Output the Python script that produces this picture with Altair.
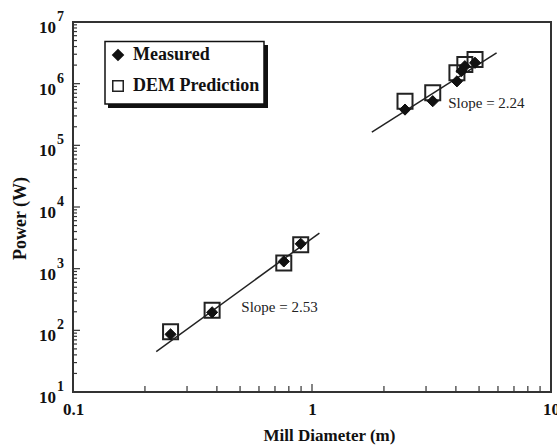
import altair as alt
import pandas as pd

# ---- measured mill power (W) against mill diameter (m) ----
meas_diam = [0.256, 0.382, 0.762, 0.897, 2.45, 3.20, 4.04, 4.22, 4.36, 4.81]
meas_power = [86, 196, 1310, 2530, 3.8e5, 5.2e5, 1.09e6, 1.6e6, 1.92e6, 2.18e6]

# ---- DEM predicted power ----
dem_diam = [0.256, 0.382, 0.762, 0.897, 2.45, 3.20, 4.04, 4.36, 4.81]
dem_power = [95, 211, 1230, 2440, 5.2e5, 7.1e5, 1.51e6, 2.04e6, 2.46e6]

# ---- power-law fit lines (end points) ----
fit_group = ["small", "small", "large", "large"]
fit_diam = [0.223, 1.074, 1.78, 5.92]
fit_power = [45.3, 3785, 1.64e5, 3.16e6]

# ---- slope annotations ----
slope_text = ["Slope = 2.53", "Slope = 2.24"]
slope_diam = [0.506, 3.715]
slope_power = [240, 4.88e5]

# ---- axis ticks ----
x_labels = [0.1, 1, 10]
x_major = [1]
x_minor = [0.2, 0.3, 0.4, 0.5, 0.6, 0.7, 0.8, 0.9, 2, 3, 4, 5, 6, 7, 8, 9]
y_exponents = [1, 2, 3, 4, 5, 6, 7]
y_mantissas = [2, 3, 4, 5, 6, 7, 8, 9]

SERIES = ["Measured", "DEM Prediction"]
SERIF = "Liberation Serif"
INK = "#111111"
W, H = 478, 370

meas_df = pd.DataFrame({"d": meas_diam, "p": meas_power, "series": "Measured"})
dem_df = pd.DataFrame({"d": dem_diam, "p": dem_power, "series": "DEM Prediction"})
fit_df = pd.DataFrame({"d": fit_diam, "p": fit_power, "g": fit_group})
slope_df = pd.DataFrame({"d": slope_diam, "p": slope_power, "t": slope_text})
ylab_df = pd.DataFrame({"d": [0.1] * len(y_exponents),
                        "p": [10.0 ** e for e in y_exponents],
                        "e": [str(e) for e in y_exponents]})
xmaj_df = pd.DataFrame({"d": x_major})
xmin_df = pd.DataFrame({"d": x_minor})
ymaj_df = pd.DataFrame({"p": [10.0 ** e for e in y_exponents[1:-1]]})
ymin_df = pd.DataFrame({"p": [m * 10.0 ** e for e in y_exponents[:-1] for m in y_mantissas]})
one = pd.DataFrame({"k": [0]})

xs = alt.Scale(type="log", domain=[0.1, 10], nice=False)
ys = alt.Scale(type="log", domain=[10, 1e7], nice=False)

x_axis = alt.Axis(values=x_labels, format="~g", ticks=False, tickSize=0, domain=False,
                  grid=False, labelFont=SERIF, labelFontWeight="bold", labelFontSize=17,
                  labelColor=INK, labelPadding=9, labelFlush=False, labelOverlap=False,
                  title="Mill Diameter (m)", titleFont=SERIF, titleFontWeight="bold",
                  titleFontSize=17, titleColor=INK, titleX=256, titleY=43,
                  titleBaseline="middle", titleAlign="center")
y_axis = alt.Axis(labels=False, ticks=False, domain=False, grid=False,
                  title="Power (W)", titleFont=SERIF, titleFontWeight="bold",
                  titleFontSize=18, titleColor=INK, titleAngle=270, titleX=-53,
                  titleY=196, titleBaseline="middle", titleAlign="center")

X = alt.X("d:Q", scale=xs, axis=x_axis)
Y = alt.Y("p:Q", scale=ys, axis=y_axis)

legend = alt.Legend(title=None, orient="none", legendX=36, legendY=24, padding=0,
                    labelFont=SERIF, labelFontWeight="bold", labelFontSize=18,
                    labelColor=INK, labelOffset=6, rowPadding=13, symbolSize=110,
                    symbolStrokeWidth=1.5)
shape_enc = alt.Shape("series:N", scale=alt.Scale(domain=SERIES, range=["diamond", "square"]),
                      legend=legend)
fill_enc = alt.Fill("series:N", scale=alt.Scale(domain=SERIES, range=[INK, "transparent"]),
                    legend=legend)
stroke_enc = alt.Stroke("series:N", scale=alt.Scale(domain=SERIES, range=[INK, "#222222"]),
                        legend=legend)

# legend frame with its drop shadow
shadow = alt.Chart(one).mark_rect(fill=INK).encode(
    x=alt.value(35), x2=alt.value(195), y=alt.value(23), y2=alt.value(86))
frame = alt.Chart(one).mark_rect(fill="white", stroke=INK, strokeWidth=1.5).encode(
    x=alt.value(32), x2=alt.value(191), y=alt.value(19.5), y2=alt.value(82))

fits = alt.Chart(fit_df).mark_line(color="#222222", strokeWidth=1.5).encode(
    x=X, y=Y, detail="g:N")

dem_pts = alt.Chart(dem_df).mark_point(size=225, strokeWidth=2, opacity=1).encode(
    x=X, y=Y, shape=shape_enc, fill=fill_enc, stroke=stroke_enc)
meas_pts = alt.Chart(meas_df).mark_point(size=125, strokeWidth=1, opacity=1).encode(
    x=X, y=Y, shape=shape_enc, fill=fill_enc, stroke=stroke_enc)

slopes = alt.Chart(slope_df).mark_text(font=SERIF, fontSize=15, color="#222222",
                                       align="left", baseline="middle").encode(
    x=X, y=Y, text="t:N")

# y tick labels written as 10 with a raised exponent
ylab_base = alt.Chart(ylab_df).mark_text(font=SERIF, fontWeight="bold", fontSize=17,
                                         color=INK, align="right", baseline="middle",
                                         dx=-17, dy=6).encode(x=X, y=Y, text=alt.value("10"))
ylab_exp = alt.Chart(ylab_df).mark_text(font=SERIF, fontWeight="bold", fontSize=14,
                                        color=INK, align="left", baseline="middle",
                                        dx=-16, dy=-5).encode(x=X, y=Y, text="e:N")

# inward tick marks
xmaj = alt.Chart(xmaj_df).mark_rule(color="#333333", strokeWidth=1.2).encode(
    x=X, y=alt.value(H), y2=alt.value(H - 8))
xmin = alt.Chart(xmin_df).mark_rule(color="#333333", strokeWidth=1.2).encode(
    x=X, y=alt.value(H), y2=alt.value(H - 6))
ymaj = alt.Chart(ymaj_df).mark_rule(color="#333333", strokeWidth=1.2).encode(
    y=Y, x=alt.value(0), x2=alt.value(7))
ymin = alt.Chart(ymin_df).mark_rule(color="#333333", strokeWidth=1.2).encode(
    y=Y, x=alt.value(0), x2=alt.value(4))

chart = alt.layer(
    xmaj, xmin, ymaj, ymin, fits, dem_pts, meas_pts, slopes, ylab_base, ylab_exp,
    shadow, frame,
).properties(
    width=W, height=H,
    autosize=alt.AutoSizeParams(type="none"),
    padding={"left": 73, "top": 22, "right": 6, "bottom": 56},
    background="white",
).configure_view(stroke="#333333", strokeWidth=2)

chart.save("out.html", embed_options={"renderer": "svg", "actions": False})
